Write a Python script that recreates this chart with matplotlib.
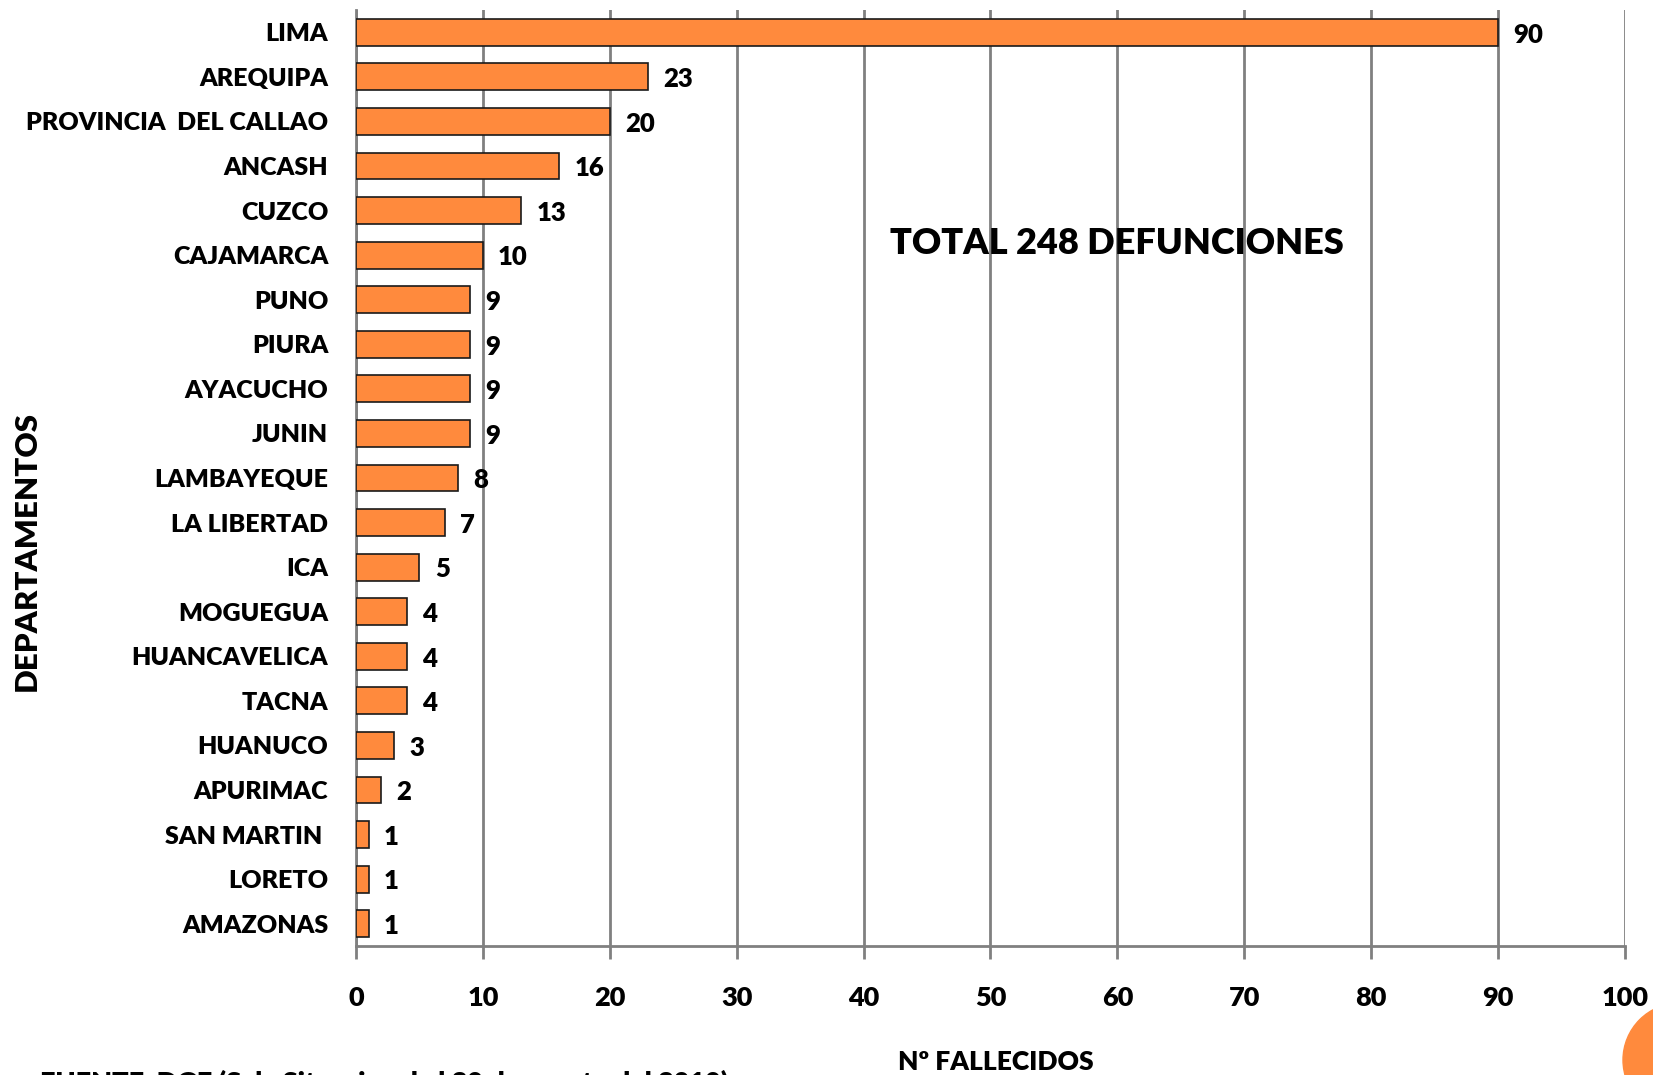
import matplotlib.pyplot as plt
from matplotlib.patches import Ellipse

departamentos = ['LIMA', 'AREQUIPA', 'PROVINCIA  DEL CALLAO', 'ANCASH', 'CUZCO', 'CAJAMARCA',
                 'PUNO', 'PIURA', 'AYACUCHO', 'JUNIN', 'LAMBAYEQUE', 'LA LIBERTAD', 'ICA',
                 'MOGUEGUA', 'HUANCAVELICA', 'TACNA', 'HUANUCO', 'APURIMAC', 'SAN MARTIN ',
                 'LORETO', 'AMAZONAS']
fallecidos = [90, 23, 20, 16, 13, 10, 9, 9, 9, 9, 8, 7, 5, 4, 4, 4, 3, 2, 1, 1, 1]
x_ticks = [0, 10, 20, 30, 40, 50, 60, 70, 80, 90, 100]

plt.rcParams['font.family'] = ['Lato', 'DejaVu Sans']
W = 'heavy'

fig = plt.figure(figsize=(16.53, 10.75), dpi=100)
ax = fig.add_axes([0.2154, 0.12, 0.7676, 0.8707])

pos = list(range(len(departamentos)))
ax.barh(pos, fallecidos, height=0.6, color='#FF8A3D', edgecolor='#1a1a1a', linewidth=1.2, zorder=3)
for p, v in zip(pos, fallecidos):
    ax.text(v + 1.2, p + 0.05, str(v), va='center', ha='left', fontsize=18.5, fontweight=W, color='black')

ax.set_xlim(0, 100)
ax.set_ylim(len(departamentos) - 0.5, -0.5)
ax.set_xticks(x_ticks)
ax.set_xticklabels([str(t) for t in x_ticks], fontsize=19.5, fontweight=W)
ax.set_yticks(pos)
ax.set_yticklabels(departamentos, fontsize=18, fontweight=W)
ax.tick_params(axis='y', length=0, pad=20)
ax.tick_params(axis='x', length=9, width=2, color='#808080', pad=20, direction='out')
ax.xaxis.grid(True, color='#808080', linewidth=2, zorder=0)

for s in ['top', 'right']:
    ax.spines[s].set_visible(False)
ax.spines['left'].set_color('#808080')
ax.spines['left'].set_linewidth(2)
ax.spines['bottom'].set_color('#808080')
ax.spines['bottom'].set_linewidth(2)

ax.text(60, 4.75, 'TOTAL 248 DEFUNCIONES', ha='center', va='center', fontsize=26, fontweight=W)

fig.text(0.6025, 0.012, 'Nº FALLECIDOS', ha='center', va='center', fontsize=19, fontweight=W)
fig.text(0.016, 0.487, 'DEPARTAMENTOS', ha='center', va='center', rotation=90, fontsize=22.5, fontweight=W)
fig.text(0.024, -0.019, 'FUENTE  DGE (Sala Situacional al 30 de agosto del 2010)', ha='left', va='bottom',
         fontsize=19.5, fontweight=W)

# orange slide marker in the corner
circ = Ellipse((1680 / 1653, 1 - 1060 / 1075), 2 * 57 / 1653, 2 * 57 / 1075,
               transform=fig.transFigure, color='#FF8A3D', clip_on=False)
fig.patches.append(circ)

fig.savefig('out.png', dpi=100)
